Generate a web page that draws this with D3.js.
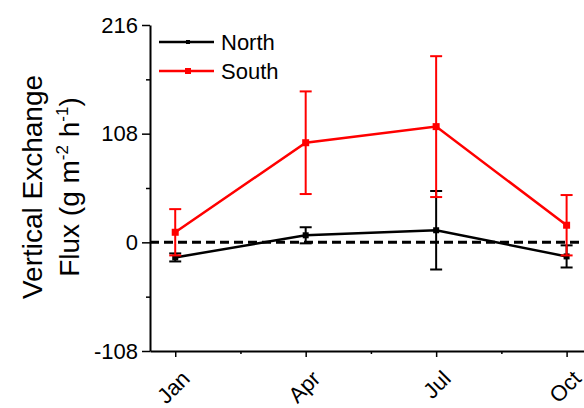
<!DOCTYPE html>
<html>
<head>
<meta charset="utf-8">
<script src="https://cdn.jsdelivr.net/npm/d3@7"></script>
<style>
  body { margin: 0; background: #fff; }
  svg { display: block; font-family: Arial, "Liberation Sans", sans-serif; }
</style>
</head>
<body>
<div id="chart"></div>
<script>
// Data
const months = [1, 4, 7, 10];
const monthLabels = ["Jan", "Apr", "Jul", "Oct"];
const northValues = [-15, 7, 12, -14];
const northErrors = [4, 8, 39, 11];
const southValues = [10, 99, 115, 17];
const southErrors = [23, 51, 70, 30];
const yTicks = [-108, 0, 108, 216];

const width = 584;
const height = 408;

const svg = d3.select("#chart")
  .append("svg")
  .attr("width", width)
  .attr("height", height);

const x = d3.scaleLinear()
  .domain([0.42, 10.4])
  .range([150, 584]);

const y = d3.scaleLinear()
  .domain([-108, 216])
  .range([351, 25]);

// zero reference line
svg.append("line")
  .attr("x1", x.range()[0])
  .attr("x2", x.range()[1])
  .attr("y1", y(0))
  .attr("y2", y(0))
  .attr("stroke", "black")
  .attr("stroke-width", 3)
  .attr("stroke-dasharray", "9,5");

// axes
const xAxis = g => g
  .attr("transform", `translate(0,${y(-108)})`)
  .call(d3.axisBottom(x).tickValues(months).tickFormat("").tickSize(6).tickSizeOuter(0))
  .call(g => g.select(".domain").attr("stroke-width", 2))
  .call(g => g.selectAll(".tick line").attr("stroke-width", 1.5));

const xMinor = g => g
  .attr("transform", `translate(0,${y(-108)})`)
  .call(d3.axisBottom(x).tickValues([2.5, 5.5, 8.5]).tickFormat("").tickSize(3).tickSizeOuter(0))
  .call(g => g.select(".domain").remove())
  .call(g => g.selectAll(".tick line").attr("stroke-width", 1.5));

const yAxis = g => g
  .attr("transform", `translate(${x.range()[0]},0)`)
  .call(d3.axisLeft(y).tickValues(yTicks).tickFormat(d => String(d)).tickSize(8).tickSizeOuter(0).tickPadding(4))
  .call(g => g.select(".domain").attr("stroke-width", 2))
  .call(g => g.selectAll(".tick line").attr("stroke-width", 1.5))
  .call(g => g.selectAll("text").style("font-size", "22px").attr("fill", "black").attr("font-family", "Arial, 'Liberation Sans', sans-serif"));

const yMinor = g => g
  .attr("transform", `translate(${x.range()[0]},0)`)
  .call(d3.axisLeft(y).tickValues([-54, 54, 162]).tickFormat("").tickSize(4).tickSizeOuter(0))
  .call(g => g.select(".domain").remove())
  .call(g => g.selectAll(".tick line").attr("stroke-width", 1.5));

svg.append("g").call(xMinor);
svg.append("g").call(yMinor);
svg.append("g").call(xAxis);
svg.append("g").call(yAxis);

// rotated month labels
svg.append("g")
  .selectAll("text")
  .data(months)
  .join("text")
  .attr("transform", d => `translate(${x(d) + 16},${y(-108) + 29}) rotate(-45)`)
  .attr("text-anchor", "end")
  .attr("font-size", "22px")
  .attr("fill", "black")
  .text((d, i) => monthLabels[i]);

// y axis title
const title = svg.append("text")
  .attr("transform", `translate(42,187) rotate(-90)`)
  .attr("text-anchor", "middle")
  .attr("font-size", "28px")
  .attr("fill", "black");
title.append("tspan").attr("x", 0).attr("dy", 0).text("Vertical Exchange");
const line2 = title.append("tspan").attr("x", 0).attr("dy", 37);
line2.append("tspan").text("Flux (g m");
line2.append("tspan").attr("font-size", "17px").attr("dy", -11).text("-2");
line2.append("tspan").attr("dy", 11).text(" h");
line2.append("tspan").attr("font-size", "17px").attr("dy", -11).text("-1");
line2.append("tspan").attr("dy", 11).text(")");

// series
const series = [
  { name: "North", values: northValues, errors: northErrors, color: "black", marker: 6 },
  { name: "South", values: southValues, errors: southErrors, color: "red", marker: 7 }
];

const line = d3.line()
  .x(d => x(d.m))
  .y(d => y(d.v));

series.forEach(s => {
  const pts = months.map((m, i) => ({ m, v: s.values[i], e: s.errors[i] }));
  const g = svg.append("g");

  g.append("path")
    .datum(pts)
    .attr("d", line)
    .attr("fill", "none")
    .attr("stroke", s.color)
    .attr("stroke-width", 2.5);

  g.selectAll(".err")
    .data(pts)
    .join("line")
    .attr("x1", d => x(d.m))
    .attr("x2", d => x(d.m))
    .attr("y1", d => y(d.v - d.e))
    .attr("y2", d => y(d.v + d.e))
    .attr("stroke", s.color)
    .attr("stroke-width", 2);

  [-1, 1].forEach(sign => {
    g.selectAll(null)
      .data(pts)
      .join("line")
      .attr("x1", d => x(d.m) - 6)
      .attr("x2", d => x(d.m) + 6)
      .attr("y1", d => y(d.v + sign * d.e))
      .attr("y2", d => y(d.v + sign * d.e))
      .attr("stroke", s.color)
      .attr("stroke-width", 2);
  });

  g.selectAll("rect")
    .data(pts)
    .join("rect")
    .attr("x", d => x(d.m) - s.marker / 2)
    .attr("y", d => y(d.v) - s.marker / 2)
    .attr("width", s.marker)
    .attr("height", s.marker)
    .attr("fill", s.color);
});

// legend
const legend = svg.append("g");
series.forEach((s, i) => {
  const ly = 42 + i * 29;
  legend.append("line")
    .attr("x1", 159).attr("x2", 214)
    .attr("y1", ly).attr("y2", ly)
    .attr("stroke", s.color)
    .attr("stroke-width", 2.5);
  const ms = i === 0 ? 4 : 6;
  legend.append("rect")
    .attr("x", 188 - ms / 2).attr("y", ly - ms / 2)
    .attr("width", ms).attr("height", ms)
    .attr("fill", s.color);
  legend.append("text")
    .attr("x", 221).attr("y", ly + 8)
    .attr("font-size", "22px")
    .attr("fill", "black")
    .text(s.name);
});
</script>
</body>
</html>
